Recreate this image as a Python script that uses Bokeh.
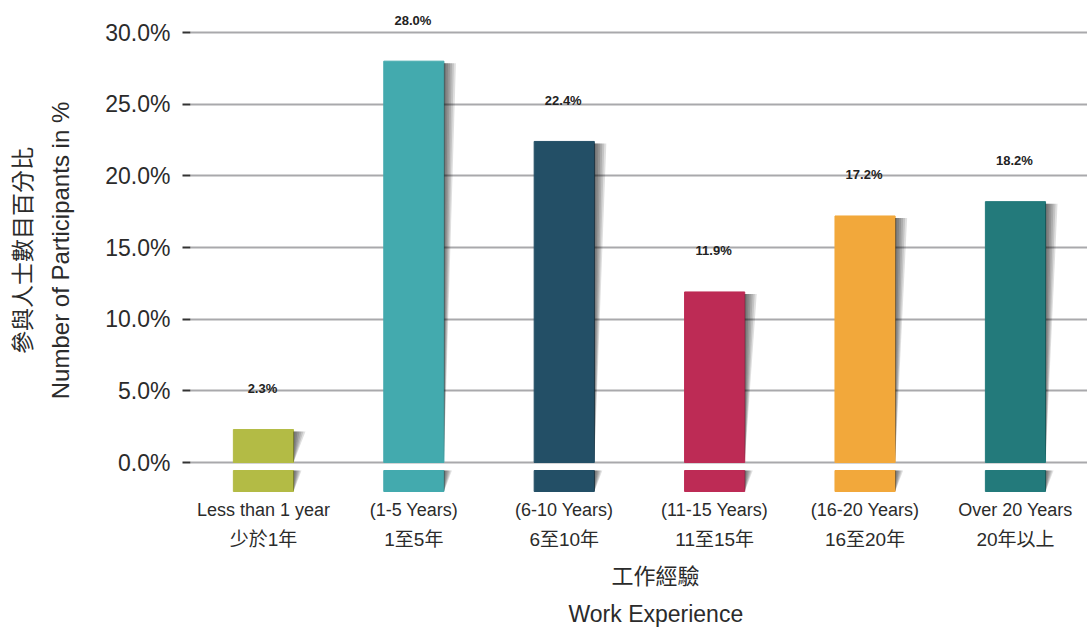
from bokeh.plotting import figure
from bokeh.models import Range1d, LinearAxis, FixedTicker, PrintfTickFormatter, Title
from bokeh.core.properties import value
from bokeh.embed import file_html
from bokeh.resources import INLINE

categories_en = ["Less than 1 year", "(1-5 Years)", "(6-10 Years)", "(11-15 Years)", "(16-20 Years)", "Over 20 Years"]
categories_zh = ["少於1年", "1至5年", "6至10年", "11至15年", "16至20年", "20年以上"]
percentages = [2.3, 28.0, 22.4, 11.9, 17.2, 18.2]
bar_colors = ["#B3BB45", "#43AAAE", "#234F66", "#BD2B55", "#F2A83B", "#237A7B"]
y_ticks = [0, 5, 10, 15, 20, 25, 30]
y_title_en = "Number of Participants in %"
y_title_zh = "參與人士數目百分比"
x_title_zh = "工作經驗"
x_title_en = "Work Experience"

FONT = "Liberation Sans, Noto Sans CJK TC"
TXT = "#2b2b2b"

idx = list(range(len(percentages)))
BAR_W = 0.4
PX_X = 150.4   # px per category
PX_Y = 430 / 30.0  # px per percent

p = figure(width=1087, height=628, output_backend="svg", toolbar_location=None,
           x_range=Range1d(-0.485, 5.479), y_range=Range1d(-2.302, 31.884),
           min_border_left=190, min_border_right=0, min_border_top=5, min_border_bottom=133,
           x_axis_location=None)
p.outline_line_color = None
p.background_fill_color = "white"
p.border_fill_color = "white"
p.xgrid.visible = False
p.ygrid.grid_line_color = "#A9A9AC"
p.ygrid.grid_line_width = 2

# y axis (English title)
ya = p.yaxis[0]
ya.ticker = FixedTicker(ticks=y_ticks)
ya.formatter = PrintfTickFormatter(format="%.1f%%")
ya.axis_line_color = None
ya.major_tick_out = 8
ya.major_tick_in = 0
ya.minor_tick_out = 0
ya.minor_tick_in = 0
ya.major_tick_line_color = "#333333"
ya.major_tick_line_width = 2
ya.major_label_standoff = 12
ya.major_label_text_font = FONT
ya.major_label_text_font_size = "23px"
ya.major_label_text_color = TXT
ya.axis_label = y_title_en
ya.axis_label_standoff = 28
ya.axis_label_text_font = FONT
ya.axis_label_text_font_size = "24px"
ya.axis_label_text_font_style = "normal"
ya.axis_label_text_color = TXT

# second left axis carrying the Chinese title
ya2 = LinearAxis(ticker=FixedTicker(ticks=[]), axis_line_color=None, major_tick_out=0, major_tick_in=0,
                 minor_tick_out=0, minor_tick_in=0, major_label_text_font_size="0px",
                 axis_label=y_title_zh, axis_label_standoff=9, axis_label_text_font=FONT,
                 axis_label_text_font_size="23px", axis_label_text_font_style="normal",
                 axis_label_text_color=TXT)
p.add_layout(ya2, "left")

# x axes: English and Chinese category labels
xa1 = LinearAxis(ticker=FixedTicker(ticks=idx),
                 major_label_overrides={i: s for i, s in zip(idx, categories_en)},
                 axis_line_color=None, major_tick_out=0, major_tick_in=0, minor_tick_out=0, minor_tick_in=0,
                 major_label_standoff=4, major_label_text_font=FONT, major_label_text_font_size="18px",
                 major_label_text_color=TXT)
xa2 = LinearAxis(ticker=FixedTicker(ticks=idx),
                 major_label_overrides={i: s for i, s in zip(idx, categories_zh)},
                 axis_line_color=None, major_tick_out=0, major_tick_in=0, minor_tick_out=0, minor_tick_in=0,
                 major_label_standoff=6, major_label_text_font=FONT, major_label_text_font_size="19px",
                 major_label_text_color=TXT)
p.add_layout(xa1, "below")
p.add_layout(xa2, "below")

# x titles (left-aligned titles shifted so they centre near x=655)
t1 = Title(text=x_title_zh, align="left", offset=655 - 44 - 190, standoff=19,
           text_font=FONT, text_font_size="22px", text_font_style="normal", text_color=TXT)
t2 = Title(text=x_title_en, align="left", offset=656 - 88 - 190, standoff=0,
           text_font=FONT, text_font_size="23px", text_font_style="normal", text_color=TXT)
p.add_layout(t1, "below")
p.add_layout(t2, "below")

# bars
p.vbar(x=idx, top=percentages, bottom=0, width=BAR_W, color=bar_colors)
stub_top = -8 / PX_Y
stub_bot = -29 / PX_Y
p.vbar(x=idx, top=[stub_top] * len(idx), bottom=[stub_bot] * len(idx), width=BAR_W, color=bar_colors)

# soft shadows at the right edge of each bar
N = 6
sw = 12 / PX_X
sw2 = 8 / PX_X
xs, ys = [], []
for i, v in zip(idx, percentages):
    r = i + BAR_W / 2
    t = v - 2 / PX_Y
    for k in range(1, N + 1):
        xs.append([r, r + sw * k / N, r])
        ys.append([t, t, 0])
        xs.append([r, r + sw2 * k / N, r])
        ys.append([stub_top, stub_top, stub_bot])
p.patches(xs=xs, ys=ys, fill_color="black", fill_alpha=0.12, line_color=None)

# value labels
p.text(x=idx, y=percentages, text=[f"{v:.1f}%" for v in percentages],
       text_align="center", text_baseline="alphabetic", y_offset=-41, x_offset=-1,
       text_font=value(FONT), text_font_style="bold", text_font_size="13px", text_color="#222222")

open("out.html", "w").write(file_html(p, INLINE))
